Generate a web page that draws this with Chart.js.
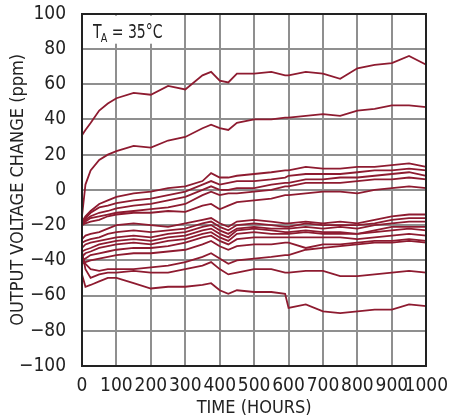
<!DOCTYPE html>
<html>
<head>
<meta charset="utf-8">
<script src="https://cdn.jsdelivr.net/npm/chart.js@4.4.0/dist/chart.umd.min.js"></script>
<style>
  body { margin: 0; background: #fff; }
</style>
</head>
<body>
<canvas id="grafica" width="449" height="419"></canvas>
<script>
// horas de medida (eje X)
let horas = [0, 10, 25, 50, 75, 100, 150, 200, 250, 300, 350, 375, 400, 425, 450, 500, 550, 590, 600, 650, 700, 750, 800, 850, 900, 950, 1000]
let ticksX = [0, 100, 200, 300, 400, 500, 600, 700, 800, 900, 1000]
let ticksY = [-100, -80, -60, -40, -20, 0, 20, 40, 60, 80, 100]

// curvas (ppm)
let curvaA = [31, 34, 38, 45, 49, 52, 55, 54, 59, 57, 65, 67, 62, 61, 66, 66, 67, 65, 65, 67, 66, 63, 69, 71, 72, 76, 71]
let curvaB = [-15, 3, 11, 17, 20, 22, 25, 24, 28, 30, 35, 37, 35, 34, 38, 40, 40, 41, 41, 42, 43, 42, 45, 46, 48, 48, 47]
let curvaU1 = [-18, -15, -12, -8, -6, -4, -2, -1, 1, 2, 5, 9.5, 7, 7, 8, 9, 10, 11, 11, 13, 12, 12, 13, 13, 14, 15, 13]
let curvaU2 = [-19, -16, -13, -10, -9, -7.5, -6, -5, -3, -1, 3, 5, 3, 4, 5, 5, 6, 7, 8, 9, 9, 9, 10, 11, 11, 12, 11]
let curvaU3 = [-19, -17, -15, -13, -12, -10.5, -9, -8, -6, -4, 0, 2, 0, 0, 1, 1, 3, 4, 4, 6, 6, 7, 7, 8, 9, 10, 8]
let curvaU4 = [-20, -18, -16, -15, -14, -13, -12, -11, -10, -8, -3, -1, -3, -2, -2, -1, 0, 2, 2, 4, 4, 4, 5, 6, 6, 7, 6]
let curvaU5 = [-20, -19, -18, -17, -15, -14, -13, -13, -12, -12.5, -9, -8, -11, -9, -7, -6, -5, -3, -3, -2, -1, -1, -2, 0, 1, 2, 1]
let curvaL1 = [-28, -26, -25, -24, -22, -20, -19, -20, -21, -19, -17, -16, -19, -21, -18, -17, -18, -19, -19, -18, -19, -18, -19, -17, -15, -14, -14]
let curvaL2 = [-30, -29, -28, -27, -25, -24, -23, -24, -23, -22, -19, -18, -21, -23, -20, -19, -20, -21, -21, -19, -20, -20, -20, -19, -17, -16, -16]
let curvaL3 = [-33, -31, -30, -29, -28, -27, -26, -27, -25, -24, -21, -20, -23, -25, -22, -21, -22, -22, -22, -21, -22, -21, -22, -20, -19, -18, -18]
let curvaL4 = [-35, -34, -33, -31, -30, -29, -28, -29, -27, -26, -23, -22, -25, -27, -23, -22, -23, -24, -24, -23, -24, -24, -25, -23, -21, -21, -21]
let curvaL5 = [-38, -36, -35, -33, -32, -31, -30, -31, -29, -28, -25, -24, -27, -29, -25, -24, -25, -25, -25, -24, -25, -25, -25, -24, -23, -22, -23]
let curvaL6 = [-40, -39, -37, -36, -35, -34, -33, -33, -32, -30, -27, -26, -29, -31, -28, -27, -27, -27, -27, -27, -27, -27, -28, -27, -26, -25, -26]
let curvaL7 = [-42, -41, -40, -39, -38, -37, -36, -36, -35, -34, -31, -29, -32, -34, -32, -31, -31, -30, -30, -33, -31, -31, -30, -29, -29, -28, -29]
let curvaM = [-38, -42, -45, -46, -45, -45, -45, -44, -43, -41, -38, -36, -39, -42, -40, -39, -38, -37, -37, -34, -33, -32, -31, -30, -30, -29, -30]
let curvaN = [-35, -45, -50, -48, -47, -47, -46, -47, -47, -45, -43, -41, -45, -48, -47, -45, -45, -47, -47, -46, -46, -49, -49, -48, -47, -46, -47]
let curvaZ = [-48, -55, -54, -52, -50, -50, -53, -56, -55, -55, -54, -53, -57, -59, -57, -58, -58, -59, -67, -65, -69, -70, -69, -68, -68, -65, -66]

let curvas = [curvaA, curvaB, curvaU1, curvaU2, curvaU3, curvaU4, curvaU5, curvaL1, curvaL2, curvaL3, curvaL4, curvaL5, curvaL6, curvaL7, curvaM, curvaN, curvaZ]

const fuente = "'DejaVu Sans Condensed', 'Liberation Sans Narrow', sans-serif"
const rojo = '#8e1b30'

const datasets = curvas.map(function(c) {
    return {
        data: c.map((v, i) => ({ x: horas[i], y: v })),
        borderColor: rojo,
        borderWidth: 1.8,
        pointRadius: 0,
        tension: 0,
        fill: false
    }
})

// rejilla y marco, dibujados con las escalas del grafico
const rejilla = {
    id: 'rejilla',
    beforeDatasetsDraw(chart) {
        const ctx = chart.ctx
        const a = chart.chartArea
        const sx = chart.scales.x
        const sy = chart.scales.y
        ctx.save()
        ctx.fillStyle = '#8f8f8f'
        ticksX.forEach(function(v) {
            let px = Math.round(sx.getPixelForValue(v))
            ctx.fillRect(px - 1, a.top, 2, a.bottom - a.top)
        })
        ticksY.forEach(function(v) {
            let py = Math.round(sy.getPixelForValue(v))
            ctx.fillRect(a.left, py - 1, a.right - a.left, 2)
        })
        ctx.restore()
    },
    afterDraw(chart) {
        const ctx = chart.ctx
        const a = chart.chartArea
        ctx.save()
        // recuadro con la temperatura
        ctx.fillStyle = '#fff'
        ctx.fillRect(a.left + 2, a.top + 2, 76, 28)
        ctx.fillStyle = '#222'
        ctx.textBaseline = 'alphabetic'
        ctx.translate(a.left + 11, a.top + 24)
        ctx.scale(0.82, 1)
        ctx.font = "19px " + fuente
        ctx.fillText('T', 0, 0)
        let w = ctx.measureText('T').width
        ctx.font = "13px " + fuente
        ctx.fillText('A', w - 1, 4)
        let w2 = ctx.measureText('A').width
        ctx.font = "19px " + fuente
        ctx.fillText(' = 35°C', w + w2 - 1, 0)
        ctx.restore()
        // marco
        ctx.save()
        let l = Math.round(a.left), r = Math.round(a.right)
        let t = Math.round(a.top), b = Math.round(a.bottom)
        ctx.fillStyle = '#222'
        ctx.fillRect(l - 1, t - 1, 2, b - t + 2)
        ctx.fillRect(r - 1, t - 1, 2, b - t + 2)
        ctx.fillRect(l - 1, t - 1, r - l + 2, 2)
        ctx.fillRect(l - 1, b - 1, r - l + 2, 2)
        ctx.restore()
    }
}

new Chart(document.getElementById('grafica'), {
    type: 'line',
    data: { datasets: datasets },
    options: {
        responsive: false,
        animation: false,
        layout: { padding: { top: 13, right: 15, left: 0, bottom: 0 } },
        plugins: { legend: { display: false }, tooltip: { enabled: false } },
        scales: {
            x: {
                type: 'linear',
                min: ticksX[0],
                max: ticksX[ticksX.length - 1],
                afterFit: s => { s.height = 53 },
                ticks: {
                    stepSize: ticksX[1] - ticksX[0],
                    autoSkip: false,
                    color: '#222',
                    font: { family: fuente, size: 19 },
                    padding: 1,
                    maxRotation: 0,
                    callback: v => String(v)
                },
                grid: { display: false },
                border: { display: false },
                title: { display: true, text: 'TIME (HOURS)', color: '#222', font: { family: fuente, size: 18 }, padding: 0 }
            },
            y: {
                min: ticksY[0],
                max: ticksY[ticksY.length - 1],
                afterFit: s => { s.width = 82 },
                ticks: {
                    stepSize: ticksY[1] - ticksY[0],
                    color: '#222',
                    font: { family: fuente, size: 19, lineHeight: 0.6 },
                    padding: 8,
                    callback: v => String(v).replace('-', '\u2212')
                },
                grid: { display: false },
                border: { display: false },
                title: { display: true, text: 'OUTPUT VOLTAGE CHANGE (ppm)', color: '#222', font: { family: fuente, size: 18 }, padding: { top: 8, bottom: 0 } }
            }
        }
    },
    plugins: [rejilla]
})
</script>
</body>
</html>
